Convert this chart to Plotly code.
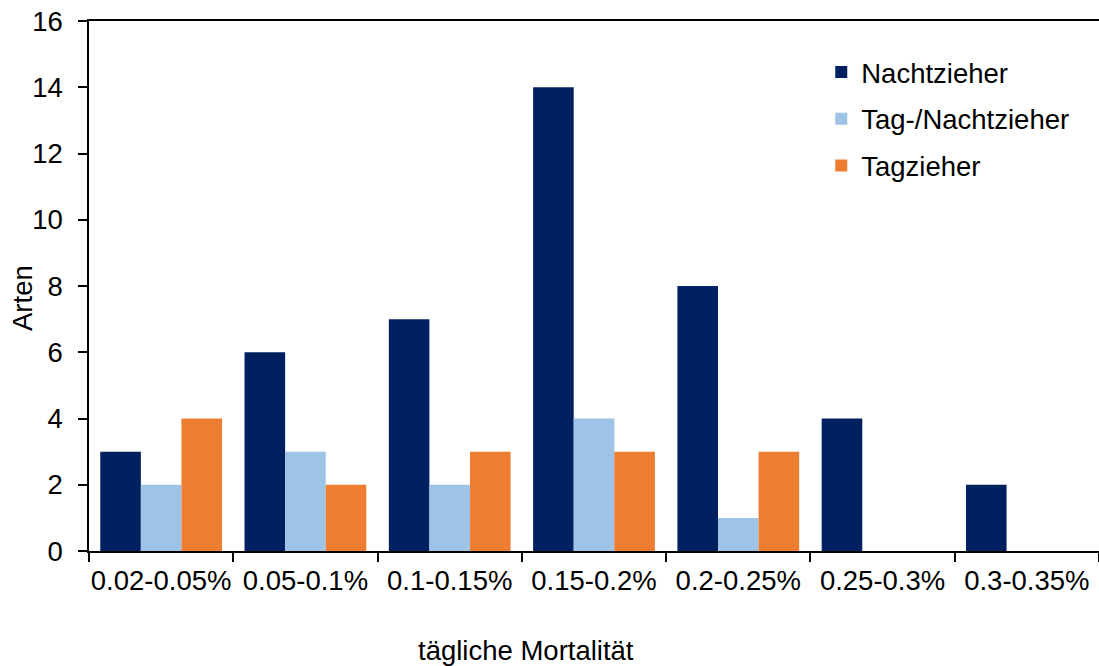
import plotly.graph_objects as go

categories = ["0.02-0.05%", "0.05-0.1%", "0.1-0.15%", "0.15-0.2%", "0.2-0.25%", "0.25-0.3%", "0.3-0.35%"]
nachtzieher = [3, 6, 7, 14, 8, 4, 2]
tag_nachtzieher = [2, 3, 2, 4, 1, 0, 0]
tagzieher = [4, 2, 3, 3, 3, 0, 0]

series = [
    ("Nachtzieher", nachtzieher, "#002060"),
    ("Tag-/Nachtzieher", tag_nachtzieher, "#9DC3E6"),
    ("Tagzieher", tagzieher, "#ED7D31"),
]

FONT = "Liberation Sans, Arial, sans-serif"
FS = 27.5

fig = go.Figure()
for i, (name, vals, color) in enumerate(series):
    fig.add_trace(go.Bar(
        x=categories, y=vals, name=name,
        marker=dict(color=color, line=dict(width=0)),
        legendgroup=f"g{i}",
    ))

fig.update_layout(
    width=1099, height=666,
    margin=dict(l=89, r=0, t=21, b=115, autoexpand=False),
    paper_bgcolor="white", plot_bgcolor="white",
    barmode="group", bargap=0.156, bargroupgap=0,
    font=dict(family=FONT, size=FS, color="#000000"),
    legend=dict(
        x=0.725, y=0.95, xanchor="left", yanchor="top",
        font=dict(size=FS), tracegroupgap=8,
        bgcolor="rgba(0,0,0,0)", itemwidth=30,
    ),
    xaxis=dict(
        showline=True, linecolor="black", linewidth=1.5, mirror=True,
        ticks="outside", tickson="boundaries", ticklen=9, tickcolor="black", tickwidth=1.5,
        showgrid=False, tickfont=dict(size=FS), ticklabelstandoff=4,
        tickangle=0, automargin=False,
    ),
    yaxis=dict(
        range=[0, 16], dtick=2, showline=True, linecolor="black", linewidth=1.5,
        ticks="outside", ticklen=9, tickcolor="black", tickwidth=1.5,
        showgrid=False, zeroline=False, tickfont=dict(size=FS), ticklabelstandoff=10,
        automargin=False,
    ),
)

fig.add_annotation(
    text="tägliche Mortalität", xref="paper", yref="paper",
    x=(526 - 89) / 1010, y=-(650 - 551) / 530, xanchor="center", yanchor="middle",
    showarrow=False, font=dict(size=FS),
)
fig.add_annotation(
    text="Arten", xref="paper", yref="paper",
    x=-(89 - 22) / 1010, y=(551 - 298) / 530, xanchor="center", yanchor="middle",
    textangle=-90, showarrow=False, font=dict(size=FS),
)

fig.write_html("out.html")
